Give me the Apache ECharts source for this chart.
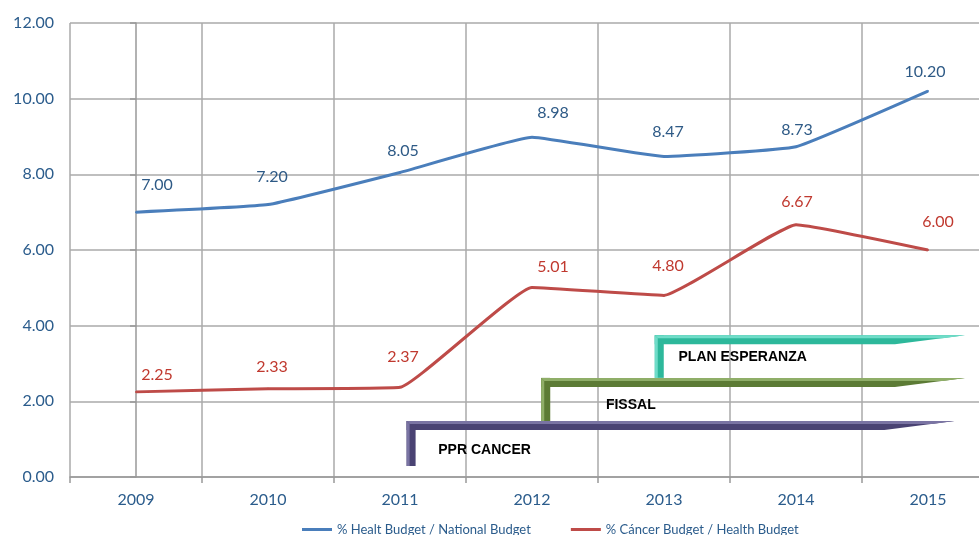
<!DOCTYPE html>
<html>
<head>
<meta charset="utf-8">
<script src="https://cdn.jsdelivr.net/npm/echarts@6/dist/echarts.min.js"></script>
<style>
  html, body { margin: 0; padding: 0; background: #fff; }
  #main { width: 979px; height: 535px; }
</style>
</head>
<body>
<div id="main"></div>
<script>
  // data
  var years = ['2009', '2010', '2011', '2012', '2013', '2014', '2015'];
  var healthBudget = [7.00, 7.20, 8.05, 8.98, 8.47, 8.73, 10.20];
  var cancerBudget = [2.25, 2.33, 2.37, 5.01, 4.80, 6.67, 6.00];
  var yTicks = [0, 2, 4, 6, 8, 10, 12];

  // where each value label sits relative to its point (px)
  var healthLabelShift = [[21, -12], [4, -13], [3, -7], [21, -9], [4, -10], [1, -2], [-3, -4]];
  var cancerLabelShift = [[21, -2], [4, -7], [3, -15], [21, -6], [4, -15], [1, -8], [10, -13]];

  // programme brackets: [xStart, yTop, yBottom, xEnd, labelX, labelY] (x in category units)
  var programNames = ['PPR CANCER', 'FISSAL', 'PLAN ESPERANZA'];
  var programSpans = [
    [2.05, 1.48, 0.29, 6.20, 2.29, 0.71],
    [3.07, 2.62, 1.48, 6.28, 3.56, 1.90],
    [3.93, 3.75, 2.62, 6.28, 4.11, 3.17]
  ];
  var programColors = ['#4a4373', '#5c7b35', '#2db89b'];
  var programLights = ['#7a74a3', '#8fae68', '#6fdcc8'];

  var font = 'Lato, "Open Sans", sans-serif';
  var axisBlue = '#2b5c8c';

  var chart = echarts.init(document.getElementById('main'));

  function drawBracket(params, api) {
    var i = params.dataIndex;
    var t = 9;
    var top = api.coord([api.value(0), api.value(1)]);
    var end = api.coord([api.value(3), api.value(1)]);
    var bot = api.coord([api.value(0), api.value(2)]);
    var lab = api.coord([api.value(4), api.value(5)]);
    var x0 = top[0], y0 = top[1], x1 = end[0], yb = bot[1];
    return {
      type: 'group',
      children: [
        { type: 'polygon', shape: { points: [[x0, y0], [x1, y0], [x1 - 70, y0 + t], [x0, y0 + t]] },
          style: { fill: programColors[i] } },
        { type: 'rect', shape: { x: x0, y: y0, width: t, height: yb - y0 },
          style: { fill: programColors[i] } },
        { type: 'polygon', shape: { points: [[x0, y0], [x1, y0], [x1 - 22, y0 + 3], [x0 + 3, y0 + 3]] },
          style: { fill: programLights[i] } },
        { type: 'polygon', shape: { points: [[x0, y0], [x0 + 3, y0 + 3], [x0 + 3, yb], [x0, yb]] },
          style: { fill: programLights[i] } },
        { type: 'text', style: { text: programNames[i], x: lab[0], y: lab[1],
            fill: '#000', font: 'bold 14px "Liberation Sans", Arial, sans-serif',
            textAlign: 'left', textVerticalAlign: 'middle' } }
      ]
    };
  }

  function withLabels(values, shifts) {
    return values.map(function (v, i) {
      return { value: v, label: { offset: shifts[i] } };
    });
  }

  function lineLabel(color) {
    return {
      show: true, position: 'top', distance: 6,
      fontSize: 16, fontFamily: font, color: color,
      formatter: function (p) { return p.value.toFixed(2); }
    };
  }

  chart.setOption({
    animation: false,
    grid: { left: 70, right: -15, top: 23, bottom: 58, outerBoundsMode: 'none' },
    legend: {
      left: 297, top: 518,
      itemGap: 40, itemWidth: 30, itemHeight: 3, icon: 'rect',
      textStyle: { fontSize: 13, color: axisBlue, fontFamily: font },
      data: ['% Healt Budget / National Budget', '% Cáncer Budget / Health Budget']
    },
    xAxis: [{
      type: 'category',
      data: years,
      boundaryGap: true,
      axisLine: { lineStyle: { color: '#999', width: 1.5 } },
      axisTick: { show: true, interval: 0, length: 6, lineStyle: { color: '#999', width: 1.5 } },
      splitLine: { show: true, interval: 0, lineStyle: { color: '#aaa', width: 1.5 } },
      axisLabel: { color: axisBlue, fontSize: 16, fontFamily: font, margin: 15 }
    }, {
      type: 'value', min: -0.5, max: 6.5, show: false
    }],
    yAxis: {
      type: 'value',
      min: yTicks[0], max: yTicks[yTicks.length - 1], interval: 2,
      axisLine: { show: true, lineStyle: { color: '#999', width: 1.5 } },
      axisTick: { show: true, length: 6, lineStyle: { color: '#999', width: 1.5 } },
      splitLine: { lineStyle: { color: '#aaa', width: 1.5 } },
      axisLabel: { color: axisBlue, fontSize: 16, fontFamily: font, margin: 16,
        formatter: function (v) { return v.toFixed(2); } }
    },
    series: [{
      name: '% Healt Budget / National Budget',
      type: 'line',
      data: withLabels(healthBudget, healthLabelShift),
      smooth: 0.1,
      symbol: 'circle',
      symbolSize: 2,
      showSymbol: true,
      color: '#4a7ebb',
      lineStyle: { width: 3, color: '#4a7ebb' },
      label: lineLabel('#2e5a86'),
      z: 3
    }, {
      name: '% Cáncer Budget / Health Budget',
      type: 'line',
      data: withLabels(cancerBudget, cancerLabelShift),
      smooth: 0.1,
      symbol: 'circle',
      symbolSize: 2,
      showSymbol: true,
      color: '#be4b48',
      lineStyle: { width: 3, color: '#be4b48' },
      label: lineLabel('#c0392f'),
      z: 3
    }, {
      type: 'custom',
      xAxisIndex: 1,
      renderItem: drawBracket,
      data: programSpans,
      clip: false,
      silent: true,
      z: 2
    }]
  });
</script>
</body>
</html>
